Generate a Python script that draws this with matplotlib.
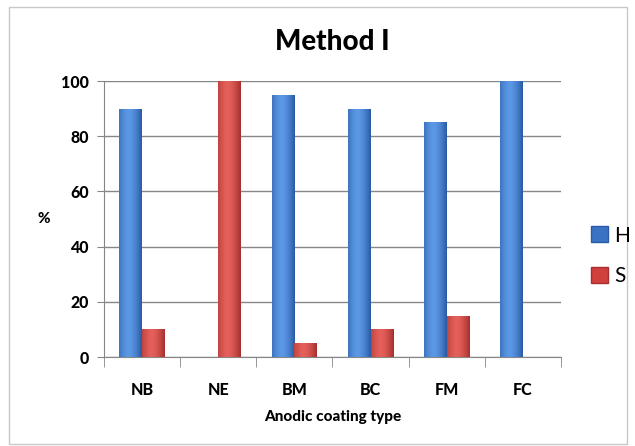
import numpy as np
import matplotlib
matplotlib.use('Agg')
import matplotlib.pyplot as plt
from matplotlib.colors import LinearSegmentedColormap
from matplotlib.patches import Rectangle, Patch

categories = ['NB', 'NE', 'BM', 'BC', 'FM', 'FC']
h_values = [90, 0, 95, 90, 85, 100]
s_values = [10, 100, 5, 10, 15, 0]
y_ticks = [0, 20, 40, 60, 80, 100]

plt.rcParams['font.family'] = ['Lato', 'DejaVu Sans']

BLUE_DARK, BLUE_LIGHT = '#2a5aa3', '#5b98e6'
RED_DARK, RED_LIGHT = '#a42f2c', '#e5605b'


def shade_bars(ax, bars, dark, light):
    # cylinder-like horizontal gradient clipped to each bar
    cmap = LinearSegmentedColormap.from_list('shade', [dark, light])
    t = np.linspace(0, 1, 80)
    prof = np.clip(1 - np.abs((t - 0.42) / 0.58) ** 1.6, 0, 1)
    for p in bars:
        x0, y0 = p.get_xy()
        w, h = p.get_width(), p.get_height()
        if h <= 0:
            continue
        im = ax.imshow(prof[None, :], extent=[x0, x0 + w, y0, y0 + h],
                       cmap=cmap, vmin=0, vmax=1, aspect='auto',
                       interpolation='bilinear', zorder=3)
        im.set_clip_path(p)


fig = plt.figure(figsize=(6.35, 4.46), dpi=100)
fig.patches.append(Rectangle((9 / 635, 2 / 446), 618 / 635, 437 / 446,
                             transform=fig.transFigure, fill=False,
                             edgecolor='#c8c8c8', linewidth=1))

ax = fig.add_axes([104 / 635, 89 / 446, 457 / 635, 276 / 446])

x = np.arange(len(categories))
w = 0.3
bars_h = ax.bar(x - w / 2, h_values, w, color=BLUE_DARK, zorder=2)
bars_s = ax.bar(x + w / 2, s_values, w, color=RED_DARK, zorder=2)
shade_bars(ax, bars_h, BLUE_DARK, BLUE_LIGHT)
shade_bars(ax, bars_s, RED_DARK, RED_LIGHT)

ax.set_xlim(-0.5, len(categories) - 0.5)
ax.set_ylim(0, 100)
ax.set_yticks(y_ticks)
ax.set_xticks(x)
ax.set_xticklabels(categories, fontsize=11.5, fontweight='black')
ax.set_xticks(np.arange(-0.5, len(categories)), minor=True)
ax.tick_params(axis='x', which='major', length=0, pad=18)
ax.tick_params(axis='x', which='minor', length=7, color='#868686', direction='out')
ax.tick_params(axis='y', length=5, color='#868686', labelsize=11.5, pad=6)
for lab in ax.get_yticklabels():
    lab.set_fontweight('black')

ax.grid(axis='y', color='#868686', linewidth=1, zorder=0)
for side in ['top', 'right']:
    ax.spines[side].set_visible(False)
for side in ['left', 'bottom']:
    ax.spines[side].set_color('#868686')

ax.set_title('Method I', fontsize=20, fontweight='black', pad=22)
ax.set_xlabel('Anodic coating type', fontsize=11, fontweight='black', labelpad=9)
ax.set_ylabel('%', fontsize=11, fontweight='black', rotation=0, labelpad=12, va='center')

handles = [Patch(facecolor='#3a72c4', edgecolor='#2a5aa3', label='H'),
           Patch(facecolor='#d0403c', edgecolor='#a42f2c', label='S')]
fig.legend(handles=handles, loc='center left', bbox_to_anchor=(591 / 635, 190 / 446),
           frameon=False, fontsize=15, handlelength=0.8, handleheight=0.8,
           handletextpad=0.3, labelspacing=1.0, borderpad=0, borderaxespad=0)

fig.savefig('out.png', dpi=100)
